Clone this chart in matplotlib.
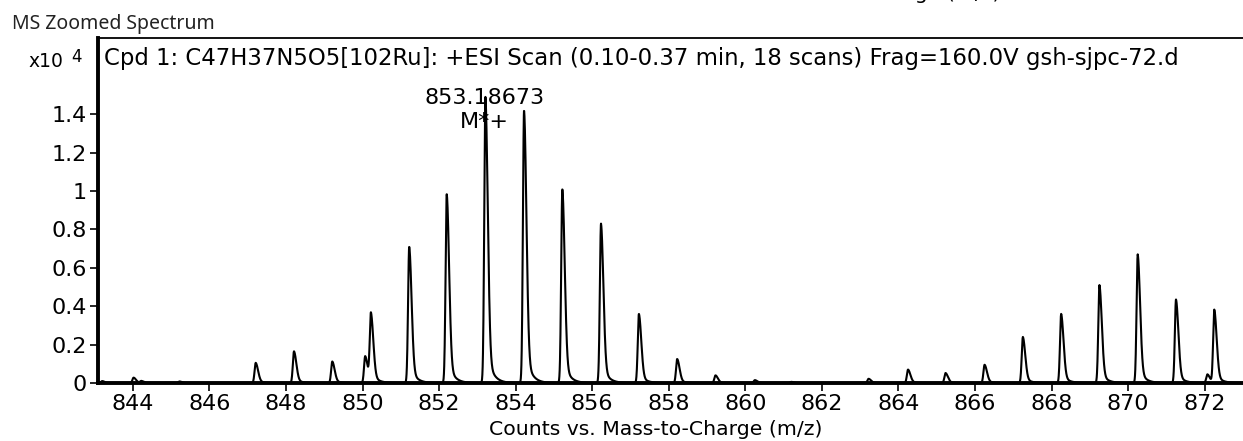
import matplotlib
matplotlib.use("Agg")
import matplotlib.pyplot as plt
import numpy as np

# peak centroids (m/z) and heights (x10^4 counts)
peak_mz = [843.20, 844.02, 844.22, 845.22, 847.21, 848.21, 849.21, 850.07,
           850.22, 851.22, 852.20, 853.21, 854.22, 855.22, 856.23, 857.22,
           858.22, 859.22, 860.25, 861.20, 863.22, 864.25, 865.23, 866.25,
           867.25, 868.25, 869.25, 870.25, 871.25, 872.07, 872.25]
peak_h = [0.010, 0.028, 0.010, 0.008, 0.105, 0.165, 0.112, 0.140,
          0.355, 0.710, 0.985, 1.490, 1.420, 1.010, 0.830, 0.360,
          0.125, 0.040, 0.015, 0.006, 0.022, 0.070, 0.052, 0.095,
          0.240, 0.360, 0.510, 0.670, 0.435, 0.045, 0.380]

x_ticks = [844, 846, 848, 850, 852, 854, 856, 858, 860, 862, 864, 866, 868, 870, 872]
y_ticks = [0, 0.2, 0.4, 0.6, 0.8, 1.0, 1.2, 1.4]
y_labels = ["0", "0.2", "0.4", "0.6", "0.8", "1", "1.2", "1.4"]

title = "Cpd 1: C47H37N5O5[102Ru]: +ESI Scan (0.10-0.37 min, 18 scans) Frag=160.0V gsh-sjpc-72.d"
base_peak_label = "853.18673"


def peak_profile(x, c, h):
    # tailing peak shape: steep front, slower back side with a tail
    d = x - c
    left = np.exp(-0.5 * (d / 0.03) ** 2)
    right = 0.85 * np.exp(-0.5 * (d / 0.062) ** 2) + 0.15 * np.exp(-np.clip(d, 0, None) / 0.14)
    return h * np.where(d < 0, left, right)


mz = np.arange(843.09, 873.0, 0.004)
counts = np.zeros_like(mz)
for c, h in zip(peak_mz, peak_h):
    counts += peak_profile(mz, c, h)

plt.rcParams['font.family'] = ['DejaVu Sans']

W, H = 1243, 441
fig = plt.figure(figsize=(W / 100, H / 100), dpi=100)
left, right, top, bottom = 98, 1243, 38, 383
ax = fig.add_axes([left / W, 1 - bottom / H, (right - left) / W, (bottom - top) / H])

ax.plot(mz, counts, color='black', lw=1.5)
ax.set_xlim(843.09, 873.0)
ax.set_ylim(0, 1.797)

ax.spines['right'].set_visible(False)
ax.spines['left'].set_linewidth(2.8)
ax.spines['bottom'].set_linewidth(2.8)
ax.spines['top'].set_linewidth(1.3)

ax.set_xticks(x_ticks)
ax.set_yticks(y_ticks)
ax.set_yticklabels(y_labels)
ax.tick_params(axis='both', direction='out', length=6, width=1.2, labelsize=16, pad=2)

ax.set_xlabel("Counts vs. Mass-to-Charge (m/z)", fontsize=14.7, labelpad=4, x=0.487)

# base peak annotation
i_max = int(np.argmax(peak_h))
ax.text(peak_mz[i_max] - 0.03, 1.455, base_peak_label, fontsize=16, ha='center',
        va='baseline', zorder=1)
ax.text(peak_mz[i_max] - 0.03, 1.33, "M*+", fontsize=16, ha='center',
        va='baseline', zorder=1)

fig.text(104 / W, 1 - 65 / H, title, fontsize=16.4, va='baseline', ha='left')
fig.text(12 / W, 1 - 29 / H, "MS Zoomed Spectrum", fontsize=14, va='baseline',
         ha='left', family=['Noto Sans', 'DejaVu Sans'], color='#222222')
fig.text(63 / W, 1 - 67 / H, "x10", fontsize=13.5, va='baseline', ha='right')
fig.text(76 / W, 1 - 62 / H, "4", fontsize=12, va='baseline', ha='center')

# bottom of the previous panel's axis label, cut by the top edge
fig.text(1000 / W, 1 + 1 / H, "Counts vs. Mass-to-Charge (m/z)", fontsize=14.7,
         va='baseline', ha='right')

fig.savefig("out.png", dpi=100)
